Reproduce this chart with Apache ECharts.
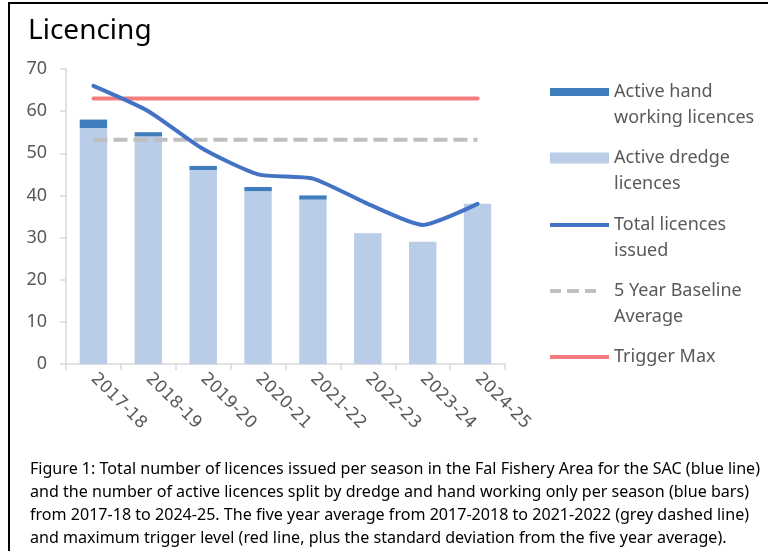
<!DOCTYPE html>
<html><head><meta charset="utf-8">
<script src="https://cdn.jsdelivr.net/npm/echarts@6/dist/echarts.min.js"></script>
<style>html,body{margin:0;padding:0;background:#fff}#c{width:768px;height:551px}</style>
</head><body><div id="c"></div>
<script>
const categories = ['2017-18','2018-19','2019-20','2020-21','2021-22','2022-23','2023-24','2024-25'];
const dredgeLicences = [56,54,46,41,39,31,29,38];
const handLicences = [2,1,1,1,1,0,0,0];
const totalIssued = [66,60,51,45,44,38,33,38];
const baselineAverage = [53.2,53.2,53.2,53.2,53.2,53.2,53.2,53.2];
const triggerMax = [63,63,63,63,63,63,63,63];
const yMin = 0, yMax = 70, yStep = 10;
const titleText = 'Licencing';
const captionLines = [
  'Figure 1: Total number of licences issued per season in the Fal Fishery Area for the SAC (blue line)',
  'and the number of active licences split by dredge and hand working only per season (blue bars)',
  'from 2017-18 to 2024-25. The five year average from 2017-2018 to 2021-2022 (grey dashed line)',
  'and maximum trigger level (red line, plus the standard deviation from the five year average).'
];

const FONT = 'Noto Sans';
const GREY = '#595959';
const C_HAND = '#3f7dbd', C_DREDGE = '#b9cde8', C_TOTAL = '#4472c4', C_BASE = '#bfbfbf', C_TRIG = '#f47c7f';

const cv = document.createElement('canvas').getContext('2d');
cv.font = '16px "' + FONT + '"';
const capScale = 730 / cv.measureText(captionLines[0]).width;

const chart = echarts.init(document.getElementById('c'), null, {renderer: 'canvas'});

function legendFor(name, centerY, icon, iw, ih, twoLine) {
  return {
    data: [{name: name, icon: icon}],
    left: 550, top: twoLine ? centerY - 39 : centerY - 13,
    padding: 0, itemWidth: iw, itemHeight: ih, itemGap: 0,
    selectedMode: false,
    formatter: twoLine ? (n => ' \n' + n) : undefined,
    textStyle: {fontFamily: FONT, fontSize: 18, color: GREY, lineHeight: 26}
  };
}
const dashIcon = 'path://M0,0h11v4h-11z M17,0h12v4h-12z M35,0h11v4h-11z M59,2';

const option = {
  backgroundColor: '#fff',
  animation: false,
  textStyle: {fontFamily: FONT},
  title: {text: titleText, left: 23, top: 12,
    textStyle: {fontFamily: FONT, fontSize: 28, fontWeight: 'normal', color: '#000'}},
  grid: {left: 66, right: 263, top: 69, bottom: 187, containLabel: false},
  legend: [
    legendFor('Active hand\nworking licences', 92, 'rect', 59, 8, true),
    legendFor('Active dredge\nlicences', 158, 'rect', 59, 11, true),
    legendFor('Total licences\nissued', 225, 'rect', 59, 4, true),
    legendFor('5 Year Baseline\nAverage', 291, dashIcon, 59, 4, true),
    legendFor('Trigger Max', 357, 'rect', 59, 4, false)
  ],
  xAxis: {
    type: 'category', data: categories, boundaryGap: true,
    axisLine: {lineStyle: {color: '#d9d9d9', width: 1.5}},
    axisTick: {show: true, alignWithLabel: false, length: 6, lineStyle: {color: '#d9d9d9', width: 1.5}},
    axisLabel: {rotate: -45, color: GREY, fontSize: 17, fontFamily: 'DejaVu Sans', margin: 12, interval: 0},
    splitLine: {show: false}
  },
  yAxis: {
    type: 'value', min: yMin, max: yMax, interval: yStep,
    axisLine: {show: true, lineStyle: {color: '#d9d9d9', width: 1.5}},
    axisTick: {show: true, length: 6, lineStyle: {color: '#d9d9d9', width: 1.5}},
    axisLabel: {color: GREY, fontSize: 18, fontFamily: FONT, margin: 19},
    splitLine: {show: false}
  },
  series: [
    {name: 'Active dredge\nlicences', type: 'bar', stack: 'a', data: dredgeLicences,
      barWidth: '50%', itemStyle: {color: C_DREDGE}, z: 2},
    {name: 'Active hand\nworking licences', type: 'bar', stack: 'a', data: handLicences,
      barWidth: '50%', itemStyle: {color: C_HAND}, z: 2},
    {name: 'Trigger Max', type: 'line', data: triggerMax, symbol: 'none',
      lineStyle: {color: C_TRIG, width: 4, cap: 'round'}, itemStyle: {color: C_TRIG}, z: 3},
    {name: '5 Year Baseline\nAverage', type: 'line', data: baselineAverage, symbol: 'none',
      lineStyle: {color: C_BASE, width: 4, type: [14, 6]}, itemStyle: {color: C_BASE}, z: 3},
    {name: 'Total licences\nissued', type: 'line', data: totalIssued, symbol: 'none', smooth: 0.2,
      lineStyle: {color: C_TOTAL, width: 4, cap: 'round', join: 'round'}, itemStyle: {color: C_TOTAL}, z: 4}
  ],
  graphic: [
    {type: 'line', shape: {x1: 8, y1: 3, x2: 768, y2: 3}, style: {stroke: '#000', lineWidth: 2}, silent: true},
    {type: 'line', shape: {x1: 9, y1: 3, x2: 9, y2: 551}, style: {stroke: '#000', lineWidth: 2}, silent: true}
  ].concat(captionLines.map((t, i) => ({
    type: 'text', x: 30, y: 469 + i * 23, scaleX: capScale, silent: true,
    style: {text: t, fontFamily: FONT, fontSize: 16, fill: '#000', verticalAlign: 'middle', align: 'left'}
  })))
};
chart.setOption(option);
</script></body></html>
